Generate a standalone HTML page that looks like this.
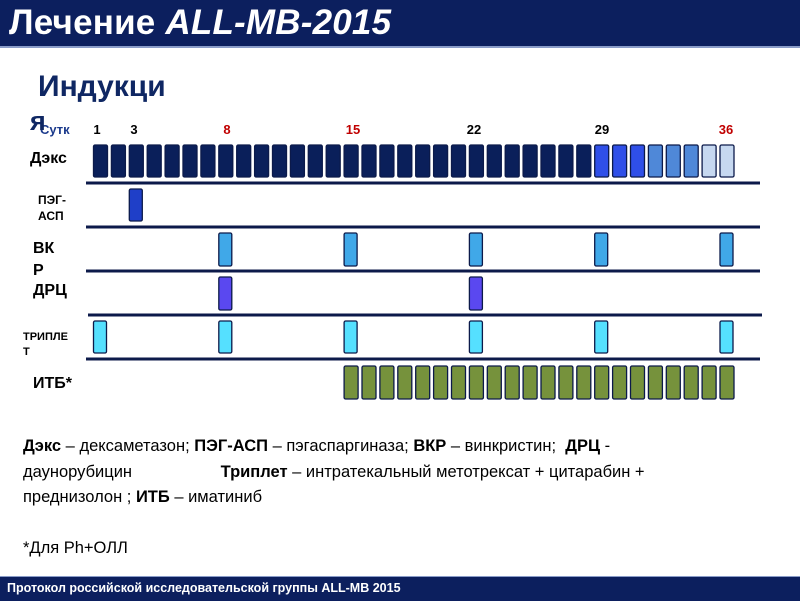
<!DOCTYPE html>
<html><head><meta charset="utf-8"><style>
body{margin:0;width:800px;height:600px;background:#fff;overflow:hidden;position:relative;font-family:"Liberation Sans",sans-serif}
.hdr{position:absolute;left:0;top:0;width:800px;height:46px;background:#0c1f5e;border-bottom:2px solid #8a9cc8}
.hdr span{position:absolute;left:9px;top:3px;color:#fff;font-weight:bold;font-size:35px;letter-spacing:0.2px}
.ftr{position:absolute;left:0;top:576px;width:800px;height:24px;background:#0c1f5e;border-top:1px solid #8a9cc8}
.ftr span{position:absolute;left:7px;top:4px;color:#fff;font-weight:bold;font-size:12.5px}
.t{position:absolute;white-space:nowrap}
.leg{position:absolute;left:23px;top:434px;font-size:16.5px;line-height:25.5px;color:#000;width:760px}
</style></head><body>
<div class="hdr"><span>Лечение <i>ALL-MB-2015</i></span></div>
<div class="t" style="left:38px;top:70px;font-size:30px;font-weight:bold;color:#0f2763">Индукци</div>
<div class="t" style="left:40px;top:122px;font-size:13px;font-weight:bold;color:#1b3a8c">Сутк</div>
<div class="t" style="left:30px;top:106px;font-size:27px;font-weight:bold;color:#0f2763">я</div>
<div class="t" style="left:30px;top:150px;font-size:16px;font-weight:bold;color:#000">Дэкс</div>
<div class="t" style="left:38px;top:192px;font-size:12px;font-weight:bold;line-height:16px;color:#000">ПЭГ-<br>АСП</div>
<div class="t" style="left:33px;top:238px;font-size:16px;font-weight:bold;line-height:22px;color:#000">ВК<br>Р</div>
<div class="t" style="left:33px;top:282px;font-size:16px;font-weight:bold;color:#000">ДРЦ</div>
<div class="t" style="left:23px;top:330px;font-size:11px;font-weight:bold;line-height:15px;color:#000">ТРИПЛЕ<br>Т</div>
<div class="t" style="left:33px;top:375px;font-size:16px;font-weight:bold;color:#000">ИТБ*</div>
<svg width="800" height="600" style="position:absolute;left:0;top:0">
<g font-family="Liberation Sans,sans-serif" font-size="13" font-weight="bold" text-anchor="middle">
<text x="97" y="134">1</text><text x="134" y="134">3</text><text x="227" y="134" fill="#c00000">8</text>
<text x="353" y="134" fill="#c00000">15</text><text x="474" y="134">22</text><text x="602" y="134">29</text><text x="726" y="134" fill="#c00000">36</text>
</g>
<g stroke="#0c1a4a" stroke-width="3">
<line x1="86" y1="183" x2="760" y2="183"/><line x1="86" y1="227" x2="760" y2="227"/>
<line x1="86" y1="271" x2="760" y2="271"/><line x1="88" y1="315" x2="762" y2="315"/>
<line x1="86" y1="359" x2="760" y2="359"/>
</g>
<g id="bars" stroke="#0c1a4a" stroke-width="1.3"></g>
</svg>
<div class="leg"><b>Дэкс</b> – дексаметазон; <b>ПЭГ-АСП</b> – пэгаспаргиназа; <b>ВКР</b> – винкристин; &nbsp;<b>ДРЦ</b> -<br>даунорубицин <span style="display:inline-block;width:84px"></span><b>Триплет</b> – интратекальный метотрексат + цитарабин +<br>преднизолон ; <b>ИТБ</b> – иматиниб<br><br>*Для Ph+ОЛЛ</div>
<div class="ftr"><span>Протокол российской исследовательской группы ALL-MB 2015</span></div>
<script>
var g=document.getElementById('bars'),s='';
function r(i,y,h,w,c){var x=93+17.9*i;s+='<rect x="'+(x+0.5).toFixed(1)+'" y="'+y+'" width="'+w+'" height="'+h+'" rx="1.5" fill="'+c+'"/>';}
for(var i=0;i<36;i++){var c=i<28?'#0a1f5a':i<31?'#2f4fe8':i<34?'#4f88d8':'#c6d8f0';r(i,145,32,14,c);}
r(2,189,32,13,'#1f3fc8');
[7,14,21,28,35].forEach(function(i){r(i,233,33,13,'#40a8e8');});
[7,21].forEach(function(i){r(i,277,33,13,'#5a48f0');});
[0,7,14,21,28,35].forEach(function(i){r(i,321,32,13,'#55e0ff');});
for(var i=14;i<36;i++)r(i,366,33,14,'#76923c');
g.innerHTML=s;
</script>
</body></html>
